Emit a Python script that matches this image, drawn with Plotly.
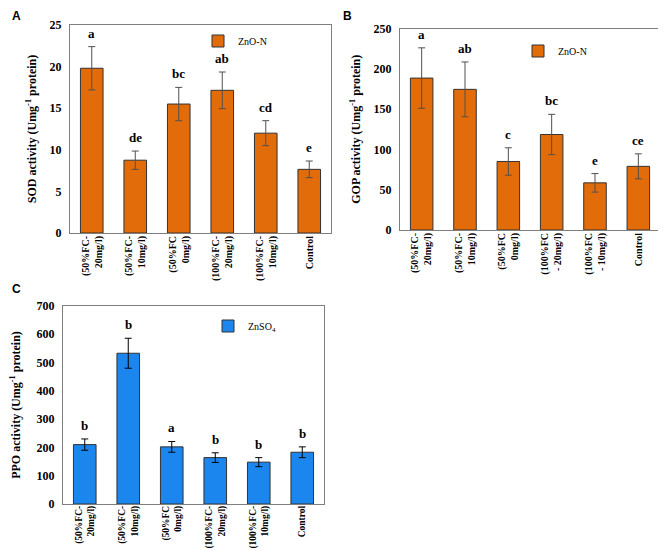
import plotly.graph_objects as go

# ---- data ----
cats_a = ["(50%FC-<br>20mg/l)", "(50%FC-<br>10mg/l)", "(50%FC<br>0mg/l)",
          "(100%FC-<br>20mg/l)", "(100%FC-<br>10mg/l)", "Control"]
sod = [19.8, 8.75, 15.5, 17.15, 12.0, 7.65]
sod_err = [2.6, 1.1, 2.0, 2.2, 1.5, 1.0]
sod_letters = ["a", "de", "bc", "ab", "cd", "e"]

cats_b = ["(50%FC-<br>20mg/l)", "(50%FC-<br>10mg/l)", "(50%FC<br>0mg/l)",
          "(100%FC<br>- 20mg/l)", "(100%FC<br>- 10mg/l)", "Control"]
gop = [188.5, 174.5, 85.0, 118.5, 58.5, 79.0]
gop_err = [37.5, 34.0, 17.0, 25.0, 11.5, 15.5]
gop_letters = ["a", "ab", "c", "bc", "e", "ce"]

cats_c = ["(50%FC-<br>20mg/l)", "(50%FC-<br>10mg/l)", "(50%FC<br>0mg/l)",
          "(100%FC-<br>20mg/l)", "(100%FC-<br>10mg/l)", "Control"]
ppo = [210.0, 533.0, 202.0, 164.0, 148.0, 183.0]
ppo_err = [20.0, 53.0, 19.0, 17.0, 16.0, 19.0]
ppo_letters = ["b", "b", "a", "b", "b", "b"]

ORANGE = "#E36C0A"
BLUE = "#1A86EE"
SERIF = "Liberation Serif"
SANS = "Liberation Sans"
W, H = 666, 550

fig = go.Figure()

def px_x(a, b):
    return [a / W, b / W]

def px_y(top, bottom):
    return [1 - bottom / H, 1 - top / H]

panels = [
    dict(cats=cats_a, vals=sod, err=sod_err, letters=sod_letters, color=ORANGE,
         errcolor="#505050", name="ZnO-N", xa="x", ya="y", legend="legend",
         xdom=px_x(62, 323), ydom=px_y(17, 225), yr=[0, 25], dt=5,
         title="SOD activity (Umg<sup>-1</sup> protein)", standoff=10,
         xstand=-2, xfs=10),
    dict(cats=cats_b, vals=gop, err=gop_err, letters=gop_letters, color=ORANGE,
         errcolor="#505050", name="ZnO-N", xa="x2", ya="y2", legend="legend2",
         xdom=px_x(392, 652), ydom=px_y(20.5, 222), yr=[0, 250], dt=50,
         title="GOP activity (Umg<sup>-1</sup> protein)", standoff=10,
         xstand=-2, xfs=10),
    dict(cats=cats_c, vals=ppo, err=ppo_err, letters=ppo_letters, color=BLUE,
         errcolor="#000000", name="ZnSO<sub>4</sub>", xa="x3", ya="y3", legend="legend3",
         xdom=px_x(55, 316), ydom=px_y(298, 496), yr=[0, 700], dt=100,
         title="PPO activity (Umg<sup>-1</sup> protein)", standoff=15,
         xstand=-3, xfs=9.5),
]

for i, p in enumerate(panels):
    fig.add_trace(go.Bar(
        x=p["cats"], y=p["vals"], name=p["name"], xaxis=p["xa"], yaxis=p["ya"],
        legend=p["legend"], width=0.52,
        marker=dict(color=p["color"], line=dict(color="#333333", width=1)),
        error_y=dict(type="data", array=p["err"], visible=True,
                     color=p["errcolor"], thickness=1, width=3.5),
    ))
    for c, v, e, t in zip(p["cats"], p["vals"], p["err"], p["letters"]):
        fig.add_annotation(x=c, y=v + e, text=t, xref=p["xa"], yref=p["ya"],
                           showarrow=False, yanchor="bottom", yshift=4,
                           font=dict(family=SERIF, size=13, color="black", weight="bold"))
    suffix = "" if i == 0 else str(i + 1)
    fig.layout["xaxis" + suffix] = dict(
        domain=p["xdom"], anchor="y" + suffix, range=[-0.5, 5.5], automargin=False,
        showline=True, mirror=True, linecolor="#7f7f7f", linewidth=1,
        ticks="", tickangle=-90, ticklabelstandoff=p["xstand"],
        tickfont=dict(family=SERIF, size=p["xfs"], color="black", weight="bold"),
    )
    fig.layout["yaxis" + suffix] = dict(
        domain=p["ydom"], anchor="x" + suffix, range=p["yr"], dtick=p["dt"],
        automargin=False,
        showline=True, mirror=True, linecolor="#7f7f7f", linewidth=1,
        showgrid=False, zeroline=False, ticks="", ticklabelstandoff=5,
        tickfont=dict(family=SERIF, size=12, color="black", weight="bold"),
        title=dict(text=p["title"], standoff=p["standoff"],
                   font=dict(family=SERIF, size=12, color="black", weight="bold")),
    )

leg_common = dict(bgcolor="rgba(0,0,0,0)", font=dict(family=SERIF, size=10, color="black"),
                  itemwidth=30, xanchor="left", yanchor="middle", tracegroupgap=0)
fig.update_layout(
    legend=dict(x=190 / W, y=1 - 33 / H, **leg_common),
    legend2=dict(x=510 / W, y=1 - 43 / H, **leg_common),
    legend3=dict(x=200 / W, y=1 - 318 / H, **leg_common),
)

for txt, x, y in [("A", 2, 8), ("B", 333, 8), ("C", 2, 281)]:
    fig.add_annotation(text=txt, x=x / W, y=1 - y / H, xref="paper", yref="paper",
                       xanchor="left", yanchor="middle", showarrow=False,
                       font=dict(family=SANS, size=12, color="black", weight="bold"))

fig.update_layout(
    width=W, height=H, margin=dict(l=0, r=0, t=0, b=0),
    paper_bgcolor="white", plot_bgcolor="white", showlegend=True,
    bargap=0.48,
)

fig.write_html("out.html")
